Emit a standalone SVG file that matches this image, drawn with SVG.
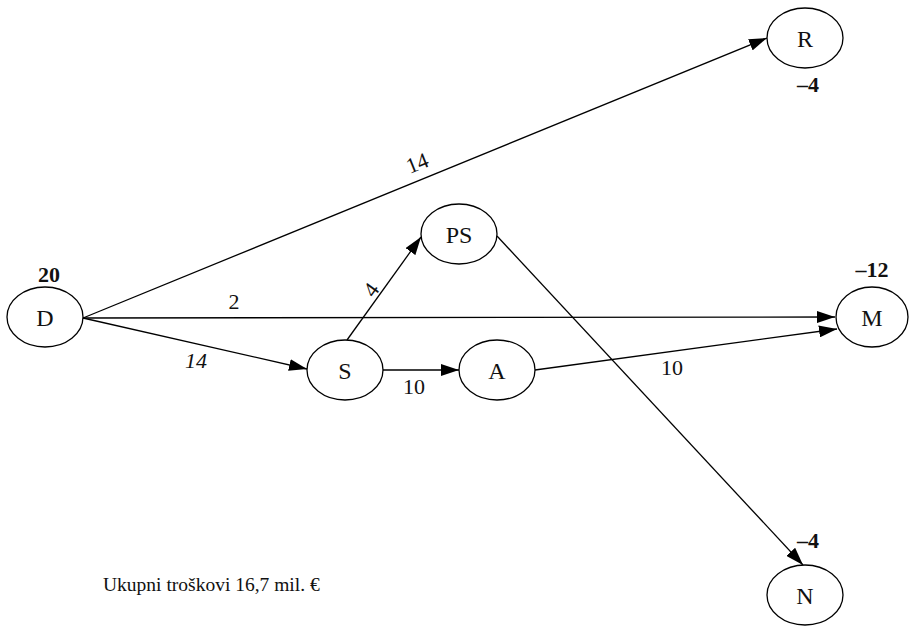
<svg xmlns="http://www.w3.org/2000/svg" width="909" height="626" viewBox="0 0 909 626">
<style>
.node ellipse{fill:#fff;stroke:#000;stroke-width:1.3}
.lbl{font-family:"Liberation Serif",serif;font-size:24px;fill:#111;text-anchor:middle}
.num{font-family:"Liberation Serif",serif;font-size:22px;fill:#111;text-anchor:middle}
.b{font-weight:bold}
.i{font-style:italic}
#edges line{stroke:#000;stroke-width:1.3;fill:none}
</style>
<defs>
<marker id="ah" markerUnits="userSpaceOnUse" markerWidth="18" markerHeight="12" refX="18" refY="6" orient="auto">
<path d="M0,0 L18,6 L0,12 z" fill="#000"/>
</marker>
</defs>
<rect width="909" height="626" fill="#fff"/>
<g id="edges">
<line x1="83" y1="318" x2="767" y2="38" marker-end="url(#ah)"/>
<line x1="83" y1="318" x2="835" y2="317" marker-end="url(#ah)"/>
<line x1="83" y1="318" x2="307" y2="369" marker-end="url(#ah)"/>
<line x1="347" y1="340" x2="421" y2="237" marker-end="url(#ah)"/>
<line x1="383" y1="370" x2="459" y2="370" marker-end="url(#ah)"/>
<line x1="535" y1="370" x2="837" y2="329" marker-end="url(#ah)"/>
<line x1="497" y1="236" x2="803" y2="565" marker-end="url(#ah)"/>
</g>
<g id="edge-labels">
<text class="num" transform="translate(420,170) rotate(-22)">14</text>
<text class="num" x="234" y="309">2</text>
<text class="num i" x="196" y="368">14</text>
<text class="num" transform="translate(377,294) rotate(-54)">4</text>
<text class="num" x="414" y="394">10</text>
<text class="num" x="672" y="375">10</text>
</g>
<g id="node-D" class="node"><ellipse cx="45" cy="317" rx="38" ry="30"/><text class="lbl" x="45" y="326">D</text><text class="num b" x="49" y="282">20</text></g>
<g id="node-S" class="node"><ellipse cx="345" cy="370" rx="38" ry="30"/><text class="lbl" x="345" y="379">S</text></g>
<g id="node-A" class="node"><ellipse cx="497" cy="370" rx="38" ry="30"/><text class="lbl" x="497" y="379">A</text></g>
<g id="node-PS" class="node"><ellipse cx="459" cy="234" rx="38" ry="30"/><text class="lbl" x="459" y="243">PS</text></g>
<g id="node-R" class="node"><ellipse cx="805" cy="38" rx="38" ry="30"/><text class="lbl" x="805" y="47">R</text><text class="num b" x="808" y="92">–4</text></g>
<g id="node-M" class="node"><ellipse cx="872" cy="317" rx="36" ry="30"/><text class="lbl" x="872" y="326">M</text><text class="num b" x="872" y="277">–12</text></g>
<g id="node-N" class="node"><ellipse cx="805" cy="595" rx="38" ry="30"/><text class="lbl" x="805" y="604">N</text><text class="num b" x="808" y="548">–4</text></g>
<text x="103" y="591" style="font-family:'Liberation Serif',serif;font-size:19.5px;fill:#111">Ukupni troškovi 16,7 mil. €</text>
</svg>
